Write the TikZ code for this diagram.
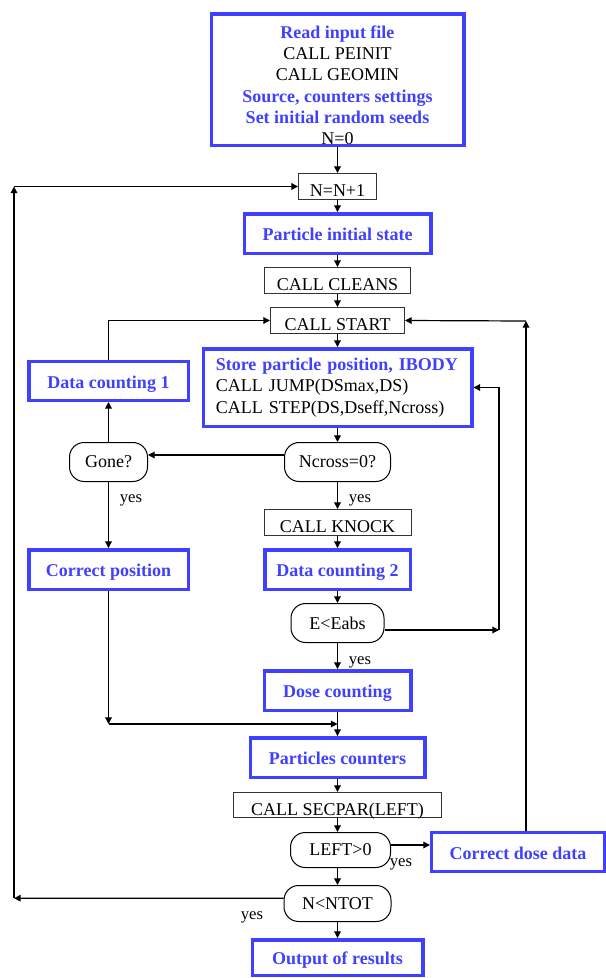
\documentclass[tikz,border=0pt]{standalone}
\usepackage{fontspec}
\setmainfont{Liberation Serif}
\usetikzlibrary{arrows.meta,calc}
\definecolor{blu}{HTML}{4040FF}
\definecolor{ink}{HTML}{000000}
\definecolor{edge}{HTML}{333333}
\newcommand{\flowtxt}{\fontsize{13.5}{16}\selectfont}
\newcommand{\yestxt}{\fontsize{12.5}{14}\selectfont}
\newcommand{\bluetxt}[1]{\textbf{\textcolor{blu}{#1}}}

\begin{document}
\begin{tikzpicture}[x=0.75pt,y=-0.75pt,font=\flowtxt,
  bluebase/.style={draw=blu,line width=2.6pt,text=blu,font=\flowtxt\bfseries,inner sep=0},
  bluebox/.style={bluebase,text height=10.5pt,text depth=0pt},
  plainbox/.style={draw=edge,line width=0.75pt,text=ink,inner sep=0,text height=15.7pt,text depth=0pt},
  testbox/.style={draw=ink,line width=0.75pt,rounded corners=11pt,inner sep=0},
  flow/.style={ink,line width=0.9pt,-{Triangle[length=5pt,width=5pt]}},
  yeslab/.style={inner sep=0,font=\yestxt}]
\useasboundingbox (0,0) rectangle (606,978);
\node[bluebase,minimum width=189.4pt,minimum height=98.6pt,align=center,text=ink,font=\flowtxt] (init) at (337.5,79.5)
  {\rule{0pt}{18pt}\bluetxt{Read input file}\\CALL PEINIT\\CALL GEOMIN\\\bluetxt{Source, counters settings}\\\bluetxt{Set initial random seeds}\\N=0};
\node[plainbox,minimum width=58.5pt,minimum height=19.5pt] (nplus) at (337.5,186.5) {N=N+1};
\node[bluebox,minimum width=139.9pt,minimum height=29.6pt] (pinit) at (337.5,233.5) {Particle initial state};
\node[plainbox,minimum width=109.5pt,minimum height=19.5pt] (cleans) at (337.5,280.5) {CALL CLEANS};
\node[plainbox,minimum width=100.5pt,minimum height=19.5pt] (start) at (337.5,320.5) {CALL START};
\node[bluebase,minimum width=201.4pt,minimum height=58.1pt,align=left,text width=182.6pt,text=ink,font=\flowtxt] (store) at (337.5,387.5)
  {\bluetxt{Store particle position, IBODY}\\CALL JUMP(DSmax,DS)\\CALL STEP(DS,Dseff,Ncross)};
\node[bluebox,minimum width=119.6pt,minimum height=28.9pt] (dcone) at (108.5,381) {Data counting 1};
\node[testbox,minimum width=58.5pt,minimum height=29.25pt] (gone) at (108.5,462) {Gone?};
\node[testbox,minimum width=79.5pt,minimum height=29.25pt] (ncross) at (337.5,462) {Ncross=0?};
\node[plainbox,minimum width=110.25pt,minimum height=19.5pt] (knock) at (337.5,522.5) {CALL KNOCK};
\node[bluebox,minimum width=119.6pt,minimum height=29.6pt] (cpos) at (108.5,569.5) {Correct position};
\node[bluebox,minimum width=109.1pt,minimum height=29.6pt] (dctwo) at (337.5,569.5) {Data counting 2};
\node[testbox,minimum width=69.75pt,minimum height=29.25pt] (eabs) at (337.5,623) {E<Eabs};
\node[bluebox,minimum width=109.9pt,minimum height=29.6pt] (dose) at (337.5,690.5) {Dose counting};
\node[bluebox,minimum width=130.9pt,minimum height=29.6pt] (pcount) at (337.5,757.5) {Particles counters};
\node[plainbox,minimum width=156pt,minimum height=18.75pt] (secpar) at (337.5,805) {CALL SECPAR(LEFT)};
\node[testbox,minimum width=75pt,minimum height=26.25pt] (secleft) at (340.5,850) {LEFT>0};
\node[bluebox,minimum width=129.4pt,minimum height=28.9pt] (cdose) at (518,852) {Correct dose data};
\node[testbox,minimum width=80.25pt,minimum height=27pt] (ntot) at (337.5,903.5) {N<NTOT};
\node[bluebox,minimum width=127.9pt,minimum height=26.6pt] (output) at (337.5,957.5) {Output of results};
\node[yeslab] (yesgone) at (131,500) {yes};
\node[yeslab] (yescross) at (360,500) {yes};
\node[yeslab] (yeseabs) at (360,662) {yes};
\node[yeslab] (yesleft) at (401,864) {yes};
\node[yeslab] (yesntot) at (252,917) {yes};
\coordinate (eabsout) at (499,630);
\coordinate (doseup) at (526,321);
\coordinate (posdown) at (108.5,724);
\coordinate (posin) at (337.5,724);
\coordinate (loopdown) at (14,898.2);
\coordinate (loopup) at (14,186.5);
\draw[flow] (init.south) -- (nplus.north);
\draw[flow] (nplus) -- (pinit);
\draw[flow] (pinit) -- (cleans);
\draw[flow] (cleans) -- (start);
\draw[flow] (start) -- (store);
\draw[flow] (store) -- (ncross);
\draw[flow] ([yshift=5.25pt]ncross.west) -- ([yshift=5.25pt]gone.east);
\draw[flow] (gone) -- (dcone);
\draw[flow] (dcone.north) |- (start.west);
\draw[flow] (gone) -- (cpos);
\draw[flow] (ncross) -- (knock);
\draw[flow] (knock) -- (dctwo);
\draw[flow] (dctwo) -- (eabs);
\draw[flow] (eabs.east |- eabsout) -- (eabsout);
\draw[flow] (eabsout) |- (store.east);
\draw[flow] (eabs) -- (dose);
\draw[flow] (dose) -- (pcount);
\draw[flow] (cpos) -- (posdown);
\draw[flow] (posdown) -- (posin);
\draw[flow] (pcount) -- (secpar);
\draw[flow] (secpar.south) -- (secpar.south |- secleft.north);
\draw[flow] ([yshift=3.75pt]secleft.east) -- ([yshift=3.75pt]secleft.east -| cdose.west);
\draw[flow] (cdose.north -| doseup) -- (doseup);
\draw[flow] (doseup) -- (start.east);
\draw[flow] (secleft.south -| ntot.north) -- (ntot.north);
\draw[flow] ([yshift=4pt]ntot.west) -- (loopdown);
\draw[flow] (loopdown) -- (loopup);
\draw[flow] (loopup) -- (nplus.west);
\draw[flow] (ntot) -- (output);
\end{tikzpicture}
\end{document}
